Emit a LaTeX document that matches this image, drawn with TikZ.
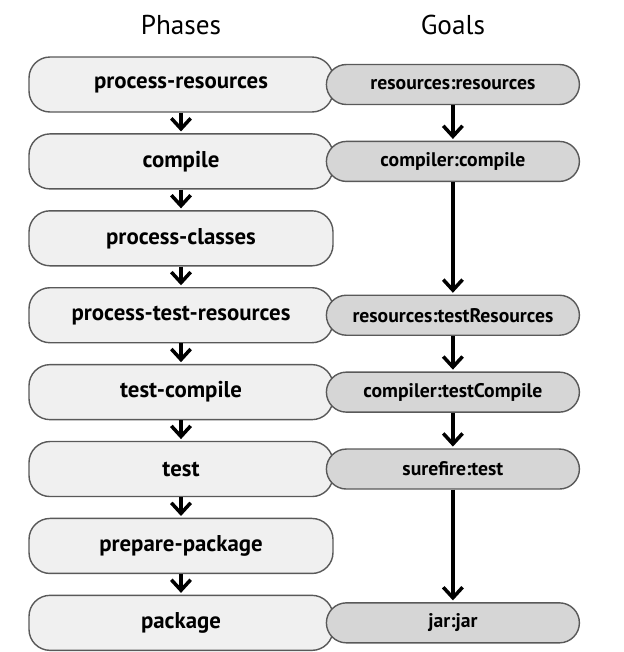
\documentclass[tikz,border=0pt]{standalone}
\usepackage{fontspec}
\setmainfont{PT Sans}
\usetikzlibrary{arrows.meta,positioning}

\tikzset{
	phase/.style={draw=black!65, fill=black!6, line width=0.8pt, rectangle, rounded corners=0.42cm, minimum width=6.08cm, minimum height=1.1cm, align=center, font=\bfseries\fontsize{13}{15}\selectfont},
	goal/.style={draw=black!65, fill=black!16, line width=0.8pt, rectangle, rounded corners=0.4cm, minimum width=5.06cm, minimum height=0.8cm, align=center, font=\bfseries\fontsize{11.2}{13}\selectfont},
	flow/.style={-{Straight Barb[length=6pt,width=11pt,line width=2pt]}, line width=2pt, shorten >=1pt},
	title/.style={font=\fontsize{15.5}{17}\selectfont}
}

\begin{document}
\begin{tikzpicture}
		\useasboundingbox (0,0) rectangle (12.48,-13.04);

		% lifecycle phases
		\node[phase] at (3.62,-1.69) (pres) {process-resources};
		\node[phase, below=0.41cm of pres] (comp) {compile};
		\node[phase, below=0.41cm of comp] (pcls) {process-classes};
		\node[phase, below=0.41cm of pcls] (ptres) {process-test-resources};
		\node[phase, below=0.41cm of ptres] (tcomp) {test-compile};
		\node[phase, below=0.41cm of tcomp] (test) {test};
		\node[phase, below=0.41cm of test] (ppkg) {prepare-package};
		\node[phase, below=0.41cm of ppkg] (pkg) {package};

		% bound goals
		\node[goal, right=-0.16cm of pres] (gres) {resources:resources};
		\node[goal, right=-0.16cm of comp] (gcomp) {compiler:compile};
		\node[goal, right=-0.16cm of ptres] (gtres) {resources:testResources};
		\node[goal, right=-0.16cm of tcomp] (gtcomp) {compiler:testCompile};
		\node[goal, right=-0.16cm of test] (gtest) {surefire:test};
		\node[goal, right=-0.16cm of pkg] (gjar) {jar:jar};

		\node[title] at (pres |- 0,-0.5) (tphase) {Phases};
		\node[title] at (gres |- 0,-0.5) (tgoal) {Goals};

		\draw[flow] (pres) -- (comp);
		\draw[flow] (comp) -- (pcls);
		\draw[flow] (pcls) -- (ptres);
		\draw[flow] (ptres) -- (tcomp);
		\draw[flow] (tcomp) -- (test);
		\draw[flow] (test) -- (ppkg);
		\draw[flow] (ppkg) -- (pkg);

		\draw[flow] (gres) -- (gcomp);
		\draw[flow] (gcomp) -- (gtres);
		\draw[flow] (gtres) -- (gtcomp);
		\draw[flow] (gtcomp) -- (gtest);
		\draw[flow] (gtest) -- (gjar);
	\end{tikzpicture}
\end{document}
